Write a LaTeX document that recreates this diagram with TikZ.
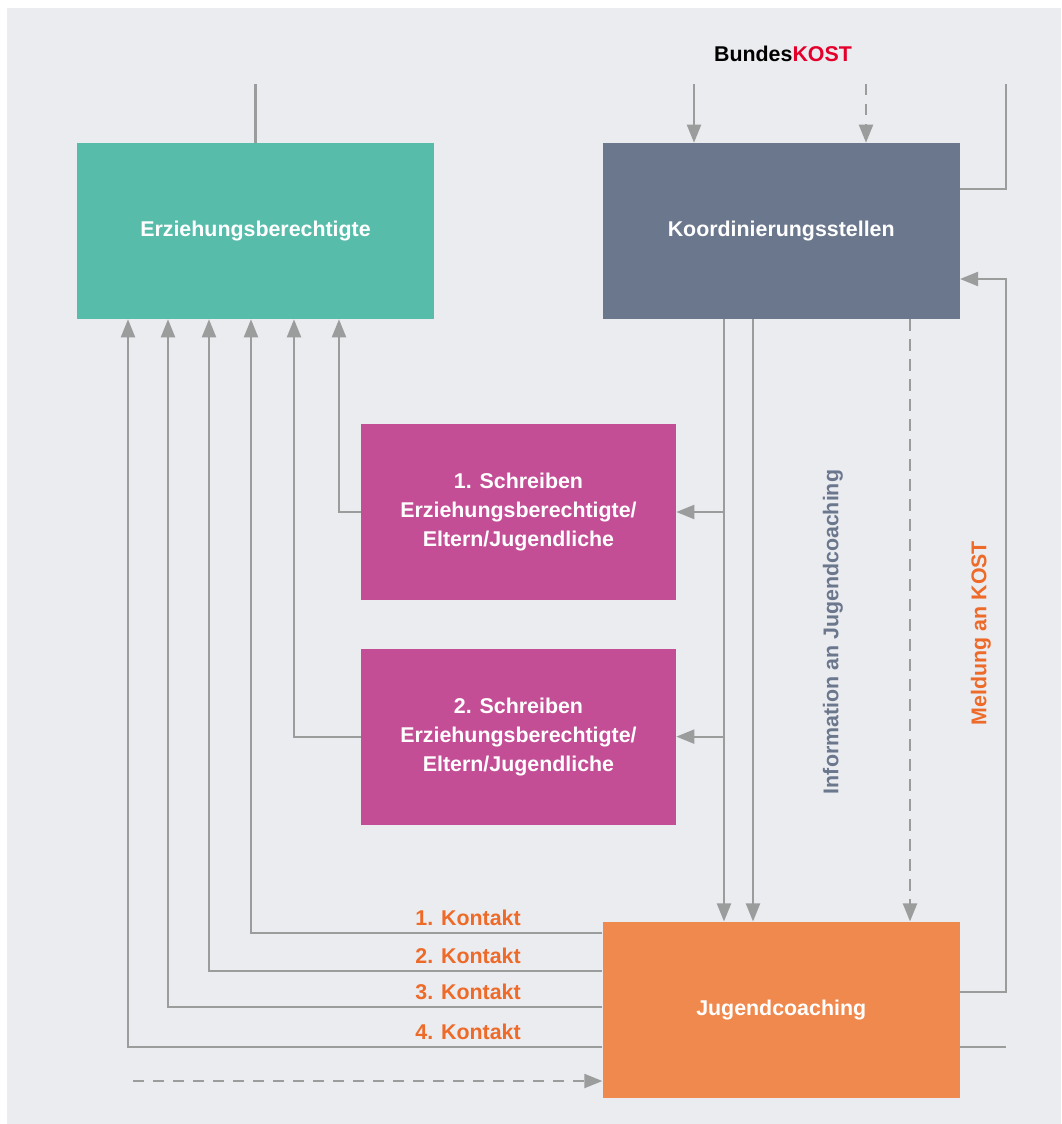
\documentclass[tikz,border=0pt]{standalone}
\usepackage{fontspec}
\setmainfont{Liberation Sans}
\usetikzlibrary{arrows.meta, positioning}
\definecolor{bgcol}{HTML}{EBECF0}
\definecolor{linecol}{HTML}{9B9C9C}
\definecolor{tealcol}{HTML}{58BCAB}
\definecolor{slatecol}{HTML}{6B778D}
\definecolor{pinkcol}{HTML}{C44E96}
\definecolor{orangecol}{HTML}{F0894E}
\definecolor{kontaktcol}{HTML}{EE6A28}
\definecolor{kostred}{HTML}{E4002B}
\tikzstyle{box} = [rectangle, minimum width=8.925cm, minimum height=4.4cm, inner sep=0pt, text=white, align=center, font=\bfseries\fontsize{15.2}{20.6}\selectfont]
\tikzstyle{letter} = [box, minimum width=7.875cm, fill=pinkcol]
\tikzstyle{linktext} = [inner sep=0pt, font=\bfseries\fontsize{15.2}{20.6}\selectfont]
\tikzstyle{line} = [line width=1.5pt, draw=linecol]
\tikzstyle{arrow} = [line, -{Triangle[length=0.45cm,width=0.35cm]}]
\tikzstyle{dasharrow} = [arrow, dash pattern=on 0.28cm off 0.22cm]

\begin{document}
\begin{tikzpicture}[x=0.025cm, y=-0.025cm]
\useasboundingbox (0,0) rectangle (1061,1124);
\fill[bgcol] (7,8) rectangle (1061,1124);

% Row 1
\node (erz) [box, fill=tealcol] at (255.5,231) {Erziehungsberechtigte};
\node (koord) [box, fill=slatecol, right=4.2cm of erz] {Koordinierungsstellen};
\node (bund) [linktext] at (783,54) {Bundes\textcolor{kostred}{KOST}};
% Row 2
\node (brief1) [letter] at (518.5,512) {1. Schreiben\\Erziehungsberechtigte/\\Eltern/Jugendliche};
\node (brief2) [letter, below=1.2cm of brief1] {2. Schreiben\\Erziehungsberechtigte/\\Eltern/Jugendliche};
% Row 3
\node (jc) [box, fill=orangecol, below=15.05cm of koord] {Jugendcoaching};

% side labels
\node (info) [linktext, text=slatecol, rotate=90] at (833,632) {Information an Jugendcoaching};
\node (meld) [linktext, text=kontaktcol, rotate=90] at (981,633) {Meldung an KOST};
\node (kt1) [linktext, text=kontaktcol, anchor=base east] at (521,925) {1. Kontakt};
\node (kt2) [linktext, text=kontaktcol, anchor=base east] at (521,963) {2. Kontakt};
\node (kt3) [linktext, text=kontaktcol, anchor=base east] at (521,999) {3. Kontakt};
\node (kt4) [linktext, text=kontaktcol, anchor=base east] at (521,1039) {4. Kontakt};

% free ends and bends
\coordinate (top0) at (255.5,84);
\coordinate (top1) at (694,84);
\coordinate (top2) at (866,84);
\coordinate (top3) at (1006,84);
\coordinate (bend3) at (1006,189);
\coordinate (mel0) at (1006,992);
\coordinate (mel1) at (1006,279);
\coordinate (out0) at (1006,1047);
\coordinate (in0) at (133,1081);
\coordinate (down1) at (724,0);
\coordinate (down2) at (753,0);
\coordinate (down3) at (910,0);
\coordinate (back1) at (339,0);
\coordinate (back2) at (294,0);
\coordinate (k1) at (251,933);
\coordinate (k2) at (209,971);
\coordinate (k3) at (168,1007);
\coordinate (k4) at (128,1047);

% Arrows
\draw [line] (top0) -- (erz.north);
\draw [arrow] (top1) -- (top1 |- koord.north);
\draw [dasharrow] (top2) -- (top2 |- koord.north);
\draw [line] (top3) -- (bend3) -- (bend3 -| koord.east);
\draw [arrow] (mel0 -| jc.east) -- (mel0) -- (mel1) -- (mel1 -| koord.east);
\draw [line] (out0 -| jc.east) -- (out0);
\draw [arrow] (down1 |- koord.south) -- (down1 |- jc.north);
\draw [arrow] (down2 |- koord.south) -- (down2 |- jc.north);
\draw [dasharrow] (down3 |- koord.south) -- (down3 |- jc.north);
\draw [arrow] (down1 |- brief1.east) -- (brief1.east);
\draw [arrow] (down1 |- brief2.east) -- (brief2.east);
\draw [arrow] (brief1.west) -- (back1 |- brief1.west) -- (back1 |- erz.south);
\draw [arrow] (brief2.west) -- (back2 |- brief2.west) -- (back2 |- erz.south);
\draw [arrow] (k1 -| jc.west) -- (k1) -- (k1 |- erz.south);
\draw [arrow] (k2 -| jc.west) -- (k2) -- (k2 |- erz.south);
\draw [arrow] (k3 -| jc.west) -- (k3) -- (k3 |- erz.south);
\draw [arrow] (k4 -| jc.west) -- (k4) -- (k4 |- erz.south);
\draw [dasharrow] (in0) -- (in0 -| jc.west);
\end{tikzpicture}
\end{document}
